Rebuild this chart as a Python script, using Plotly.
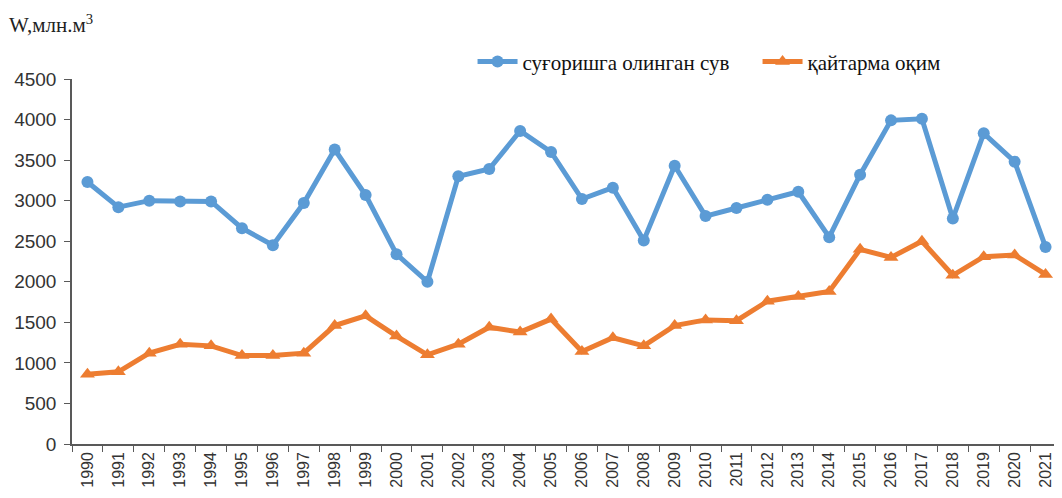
import plotly.graph_objects as go

years = [str(y) for y in range(1990, 2022)]
water_taken = [3230, 2920, 3000, 2990, 2990, 2660, 2450, 2970, 3630, 3070,
               2340, 2000, 3300, 3390, 3860, 3600, 3020, 3160, 2510, 3430,
               2810, 2910, 3010, 3110, 2550, 3320, 3990, 4010, 2780, 3830,
               3480, 2430]
return_flow = [860, 890, 1120, 1230, 1210, 1090, 1090, 1120, 1460, 1580,
               1330, 1100, 1230, 1440, 1380, 1540, 1140, 1310, 1210, 1460,
               1530, 1520, 1760, 1820, 1880, 2400, 2300, 2500, 2080, 2310,
               2330, 2090]
name_taken = "суғоришга олинган сув"
name_return = "қайтарма оқим"
y_ticks = list(range(0, 4501, 500))

fig = go.Figure()
fig.add_trace(go.Scatter(
    x=years, y=water_taken, name=name_taken, mode="lines+markers",
    line=dict(color="#5B9BD5", width=5),
    marker=dict(symbol="circle", size=12, color="#5B9BD5"),
))
fig.add_trace(go.Scatter(
    x=years, y=return_flow, name=name_return, mode="lines+markers",
    line=dict(color="#ED7D31", width=5),
    marker=dict(symbol="triangle-up", size=13, color="#ED7D31"),
))

# page body has an 8px margin, so the figure is sized/offset to compensate
fig.update_layout(
    width=1054, height=490,
    margin=dict(l=64, r=1, t=71, b=54, autoexpand=False),
    paper_bgcolor="white", plot_bgcolor="white",
    font=dict(family="Liberation Sans", size=18, color="#333333"),
    title=dict(text="W,млн.м<sup>3</sup>", x=1/1054, xanchor="left",
               xref="container", y=1 - 17/490, yanchor="middle", yref="container",
               font=dict(family="Liberation Serif", size=21, color="#222222")),
    legend=dict(orientation="h", x=0.405, xanchor="left", y=1.047, yanchor="middle",
                font=dict(family="Liberation Serif", size=21, color="#111111"),
                bgcolor="rgba(0,0,0,0)", entrywidth=230, entrywidthmode="pixels",
                itemwidth=40),
    showlegend=True,
)
fig.update_xaxes(
    type="category", range=[-0.5, 31.5], tickangle=-90, automargin=False,
    showline=True, linecolor="#595959", linewidth=1.5,
    ticks="outside", ticklen=6, tickcolor="#595959", tickson="boundaries",
    showgrid=False, zeroline=False,
    tickfont=dict(family="Liberation Sans", size=16, color="#333333"),
)
fig.update_yaxes(
    range=[0, 4500], tickvals=y_ticks, automargin=False,
    showline=True, linecolor="#595959", linewidth=1.5,
    ticks="outside", ticklen=6, tickcolor="#595959", ticklabelstandoff=4,
    showgrid=False, zeroline=False,
    tickfont=dict(family="Liberation Sans", size=19, color="#333333"),
)

fig.write_html("out.html")
